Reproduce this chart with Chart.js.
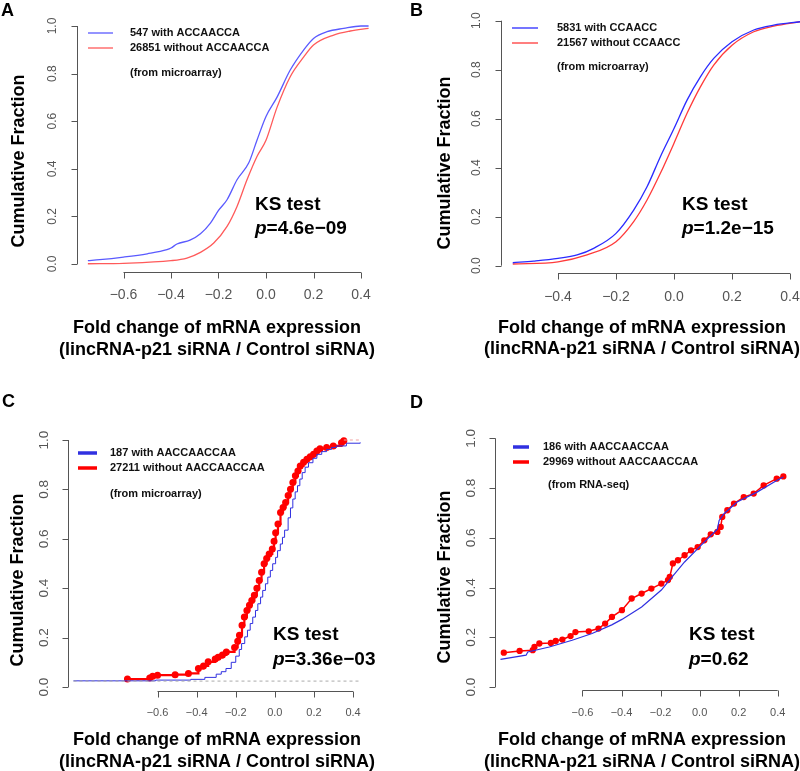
<!DOCTYPE html>
<html>
<head>
<meta charset="utf-8">
<script src="https://cdn.jsdelivr.net/npm/chart.js@4.4.1/dist/chart.umd.min.js"></script>
<style>
  html, body { margin: 0; padding: 0; background: #fff; }
  #wrap { position: relative; width: 800px; height: 771px; overflow: hidden; }
  canvas { position: absolute; }
</style>
</head>
<body>
<div id="wrap">
  <canvas id="chartA" width="400" height="385" style="left:0;top:0"></canvas>
  <canvas id="chartB" width="400" height="385" style="left:400px;top:0"></canvas>
  <canvas id="chartC" width="400" height="386" style="left:0;top:385px"></canvas>
  <canvas id="chartD" width="400" height="386" style="left:400px;top:385px"></canvas>
</div>
<script>
// ---- data ----
const yTicks = [0.0, 0.2, 0.4, 0.6, 0.8, 1.0];
const xTicksA = [-0.6, -0.4, -0.2, 0.0, 0.2, 0.4];
const xTicksB = [-0.4, -0.2, 0.0, 0.2, 0.4];
const xTicksCD = [-0.6, -0.4, -0.2, 0.0, 0.2, 0.4];

const aWith = [[-0.75,0.014],[-0.7,0.018],[-0.6,0.029],[-0.5,0.043],[-0.417,0.06],[-0.4,0.067],[-0.375,0.084],
  [-0.32,0.1],[-0.276,0.127],[-0.234,0.172],[-0.2,0.225],[-0.164,0.27],[-0.122,0.354],[-0.073,0.424],[-0.038,0.52],
  [0,0.62],[0.046,0.7],[0.102,0.815],[0.159,0.9],[0.2,0.948],[0.257,0.976],[0.327,0.99],[0.4,1.0],[0.432,1.0]];
const aWithout = [[-0.75,0.001],[-0.6,0.003],[-0.4,0.014],[-0.333,0.025],[-0.276,0.049],[-0.22,0.088],[-0.164,0.158],
  [-0.122,0.242],[-0.08,0.354],[-0.038,0.452],[0,0.52],[0.046,0.657],[0.102,0.787],[0.159,0.87],[0.2,0.92],
  [0.285,0.962],[0.355,0.979],[0.432,0.99]];

const bWith = [[-0.556,0.012],[-0.484,0.019],[-0.4,0.03],[-0.334,0.044],[-0.277,0.071],[-0.2,0.132],[-0.139,0.227],
  [-0.093,0.322],[-0.047,0.445],[0,0.56],[0.045,0.676],[0.091,0.771],[0.137,0.846],[0.2,0.914],[0.275,0.962],
  [0.344,0.982],[0.436,0.996]];
const bWithout = [[-0.556,0.007],[-0.4,0.016],[-0.3,0.044],[-0.2,0.098],[-0.139,0.18],[-0.093,0.268],[-0.047,0.377],
  [0,0.5],[0.045,0.622],[0.091,0.73],[0.137,0.819],[0.2,0.9],[0.275,0.955],[0.344,0.978],[0.436,0.996]];

const cWith = [[-1.03,0.025],[-0.61,0.028],[-0.43,0.031],[-0.358,0.039],[-0.3,0.052],[-0.274,0.062],[-0.25,0.075],
  [-0.223,0.1],[-0.2,0.125],[-0.182,0.152],[-0.17,0.176],[-0.154,0.203],[-0.14,0.23],[-0.126,0.257],[-0.113,0.283],
  [-0.099,0.31],[-0.087,0.337],[-0.073,0.364],[-0.062,0.391],[-0.048,0.418],[-0.036,0.445],[-0.023,0.472],
  [-0.011,0.499],[0.004,0.525],[0.014,0.552],[0.028,0.579],[0.039,0.606],[0.05,0.635],[0.068,0.685],
  [0.08,0.725],[0.092,0.761],[0.104,0.79],[0.116,0.815],[0.128,0.842],[0.14,0.868],[0.155,0.89],[0.172,0.908],
  [0.195,0.926],[0.215,0.942],[0.24,0.953],[0.265,0.962],[0.29,0.97],[0.316,0.976],[0.366,0.987],[0.437,0.99]];
const cWithout = [[-0.754,0.032],[-0.64,0.036],[-0.625,0.044],[-0.6,0.048],[-0.51,0.05],[-0.442,0.055],[-0.391,0.075],
  [-0.365,0.085],[-0.341,0.102],[-0.305,0.113],[-0.29,0.12],[-0.268,0.13],[-0.248,0.142],[-0.206,0.16],[-0.19,0.185],
  [-0.181,0.21],[-0.168,0.25],[-0.156,0.283],[-0.143,0.31],[-0.13,0.331],[-0.118,0.35],[-0.105,0.371],[-0.092,0.4],
  [-0.08,0.431],[-0.068,0.465],[-0.055,0.499],[-0.042,0.52],[-0.029,0.539],[-0.013,0.559],[-0.004,0.59],[0.004,0.625],
  [0.016,0.66],[0.029,0.707],[0.042,0.727],[0.055,0.747],[0.068,0.775],[0.08,0.801],[0.092,0.828],[0.105,0.855],
  [0.118,0.875],[0.13,0.895],[0.147,0.91],[0.164,0.922],[0.181,0.932],[0.198,0.942],[0.215,0.955],[0.231,0.965],
  [0.265,0.97],[0.299,0.976],[0.341,0.989],[0.353,0.997]];
const cBase = [[-1.03,0.024],[0.435,0.024]];
const cTop = [[0.353,1.0],[0.435,1.0]];

const dWith = [[-1.02,0.111],[-0.889,0.128],[-0.88,0.141],[-0.77,0.161],[-0.653,0.188],[-0.551,0.215],[-0.45,0.25],
  [-0.398,0.272],[-0.297,0.322],[-0.196,0.39],[-0.162,0.423],[-0.077,0.503],[0.007,0.57],[0.091,0.635],[0.1,0.67],
  [0.125,0.697],[0.192,0.744],[0.294,0.784],[0.395,0.831],[0.429,0.845]];
const dWithout = [[-1.003,0.138],[-0.922,0.145],[-0.855,0.148],[-0.846,0.161],[-0.821,0.175],[-0.762,0.177],
  [-0.737,0.185],[-0.703,0.191],[-0.661,0.205],[-0.636,0.221],[-0.568,0.224],[-0.518,0.235],[-0.484,0.255],
  [-0.449,0.282],[-0.398,0.309],[-0.348,0.356],[-0.297,0.376],[-0.247,0.396],[-0.196,0.416],[-0.162,0.43],
  [-0.153,0.443],[-0.137,0.497],[-0.111,0.51],[-0.077,0.53],[-0.044,0.55],[-0.01,0.563],[0.024,0.59],[0.057,0.614],
  [0.091,0.624],[0.108,0.644],[0.116,0.684],[0.142,0.711],[0.176,0.738],[0.226,0.764],[0.277,0.778],[0.328,0.811],
  [0.395,0.838],[0.429,0.847]];

const FONT = '"Liberation Sans", Arial, Helvetica, sans-serif';
const xTitle = ['Fold change of mRNA expression', '(lincRNA-p21 siRNA / Control siRNA)'];

const fmt = v => (v < 0 ? '\u2212' : '') + Math.abs(v).toFixed(1);

// R style axes + annotations, positioned through the chart's own scales
const rPlot = {
  id: 'rPlot',
  afterDraw(chart, args, o) {
    const { ctx, chartArea: ca, scales: { x, y } } = chart;
    ctx.save();
    ctx.strokeStyle = '#555';
    ctx.fillStyle = '#555';
    ctx.lineWidth = 1;
    const ax = Math.round(ca.left) + 0.5;
    const ay = Math.round(ca.bottom) + 0.5;
    ctx.beginPath();
    ctx.moveTo(ax, y.getPixelForValue(yTicks[0]));
    ctx.lineTo(ax, y.getPixelForValue(yTicks[yTicks.length - 1]));
    yTicks.forEach(v => {
      const py = Math.round(y.getPixelForValue(v)) + 0.5;
      ctx.moveTo(ax, py); ctx.lineTo(ax - 6, py);
    });
    ctx.moveTo(x.getPixelForValue(o.xTicks[0]), ay);
    ctx.lineTo(x.getPixelForValue(o.xTicks[o.xTicks.length - 1]), ay);
    o.xTicks.forEach(v => {
      const px = Math.round(x.getPixelForValue(v)) + 0.5;
      ctx.moveTo(px, ay); ctx.lineTo(px, ay + 6);
    });
    ctx.stroke();

    ctx.textAlign = 'center';
    ctx.textBaseline = 'middle';
    ctx.font = o.yTickFont + 'px ' + FONT;
    yTicks.forEach(v => {
      ctx.save();
      ctx.translate(ca.left - 24, y.getPixelForValue(v));
      ctx.rotate(-Math.PI / 2);
      ctx.fillText(v.toFixed(1), 0, 0);
      ctx.restore();
    });
    ctx.font = o.xTickFont + 'px ' + FONT;
    o.xTicks.forEach(v => ctx.fillText(fmt(v), x.getPixelForValue(v), ay + o.xLabGap));

    // titles
    const L = o.left, T = o.top;
    ctx.fillStyle = '#000';
    ctx.font = 'bold 18px ' + FONT;
    ctx.save();
    ctx.translate(o.yTitle[0] - L, o.yTitle[1] - T);
    ctx.rotate(-Math.PI / 2);
    ctx.fillText('Cumulative Fraction', 0, 0);
    ctx.restore();
    ctx.fillText(xTitle[0], o.xTitle[0] - L, o.xTitle[1] - T);
    ctx.fillText(xTitle[1], o.xTitle[0] - L, o.xTitle[2] - T);

    // panel letter
    ctx.textAlign = 'left';
    ctx.textBaseline = 'alphabetic';
    ctx.font = 'bold 18px ' + FONT;
    ctx.fillText(o.letter, o.letterPos[0] - L, o.letterPos[1] - T);

    // legend
    ctx.textBaseline = 'middle';
    o.legend.forEach((it, i) => {
      const ly = o.legY[i] - T;
      ctx.strokeStyle = it.color;
      ctx.lineWidth = o.legWidth;
      ctx.beginPath();
      ctx.moveTo(o.legLine[0] - L, ly); ctx.lineTo(o.legLine[1] - L, ly);
      ctx.stroke();
      ctx.fillStyle = '#111';
      ctx.font = 'bold 11px ' + FONT;
      ctx.fillText(it.text, o.legText - L, ly);
    });
    ctx.fillText(o.note, o.notePos[0] - L, o.notePos[1] - T);

    // KS test
    ctx.fillStyle = '#000';
    ctx.font = 'bold 19px ' + FONT;
    ctx.fillText('KS test', o.ks[0] - L, o.ks[1] - T);
    ctx.font = 'italic bold 19px ' + FONT;
    ctx.fillText('p', o.ks[0] - L, o.ks[2] - T);
    const pw = ctx.measureText('p').width;
    ctx.font = 'bold 19px ' + FONT;
    ctx.fillText('=' + o.pval, o.ks[0] - L + pw, o.ks[2] - T);
    ctx.restore();
  }
};

function series(data, color, width, extra) {
  return Object.assign({
    data: data.map(([x, y]) => ({ x, y })),
    borderColor: color, backgroundColor: color, borderWidth: width,
    pointRadius: 0, showLine: true, fill: false, clip: false
  }, extra || {});
}

function makePanel(id, p, datasets) {
  const xMin = (p.axisX - p.zeroX) / p.pxPerX;
  const xMax = (p.left + p.width - 2 - p.zeroX) / p.pxPerX;
  const yMin = (p.zeroY - p.axisY) / p.pxPerY;
  const yMax = (p.zeroY - (p.top + 5)) / p.pxPerY;
  new Chart(document.getElementById(id), {
    type: 'scatter',
    data: { datasets },
    options: {
      responsive: false,
      animation: false,
      devicePixelRatio: 1,
      layout: { padding: { left: p.axisX - p.left, right: 2, top: 5, bottom: p.top + p.height - p.axisY } },
      scales: {
        x: { type: 'linear', display: false, min: xMin, max: xMax },
        y: { type: 'linear', display: false, min: yMin, max: yMax }
      },
      plugins: { legend: { display: false }, tooltip: { enabled: false }, rPlot: p }
    },
    plugins: [rPlot]
  });
}

const smooth = { cubicInterpolationMode: 'monotone' };

makePanel('chartA', {
  left: 0, top: 0, width: 400, height: 385,
  axisX: 77, axisY: 272, zeroX: 266, pxPerX: 237.5, zeroY: 264, pxPerY: 238,
  xTicks: xTicksA, yTickFont: 12, xTickFont: 14, xLabGap: 23,
  yTitle: [19, 161], xTitle: [217, 328, 350], letter: 'A', letterPos: [1, 16],
  legend: [{ text: '547 with ACCAACCA', color: '#5a5aff' }, { text: '26851 without ACCAACCA', color: '#ff5a5a' }],
  legLine: [88, 113], legY: [33, 48], legText: 130, legWidth: 1.3,
  note: '(from microarray)', notePos: [130, 73],
  ks: [255, 205, 229], pval: '4.6e\u221209'
}, [
  series(aWith, '#5a5aff', 1.3, smooth),
  series(aWithout, '#ff5a5a', 1.3, smooth)
]);

makePanel('chartB', {
  left: 400, top: 0, width: 400, height: 385,
  axisX: 501, axisY: 273, zeroX: 674, pxPerX: 290, zeroY: 265.7, pxPerY: 245,
  xTicks: xTicksB, yTickFont: 12, xTickFont: 14, xLabGap: 24,
  yTitle: [445, 163], xTitle: [642, 328, 349], letter: 'B', letterPos: [410, 16],
  legend: [{ text: '5831 with CCAACC', color: '#2a2aff' }, { text: '21567 without CCAACC', color: '#ff3a3a' }],
  legLine: [512, 538], legY: [28, 43], legText: 557, legWidth: 1.3,
  note: '(from microarray)', notePos: [557, 67],
  ks: [682, 205, 229], pval: '1.2e\u221215'
}, [
  series(bWith, '#2a2aff', 1.3, smooth),
  series(bWithout, '#ff3a3a', 1.3, smooth)
]);

makePanel('chartC', {
  left: 0, top: 385, width: 400, height: 386,
  axisX: 68, axisY: 691, zeroX: 277.5, pxPerX: 198, zeroY: 687, pxPerY: 248,
  xTicks: xTicksCD, yTickFont: 13.5, xTickFont: 11, xLabGap: 21,
  yTitle: [18, 580], xTitle: [217, 740, 762], letter: 'C', letterPos: [2, 407],
  legend: [{ text: '187 with AACCAACCAA', color: '#3030e0' }, { text: '27211 without AACCAACCAA', color: '#ff0000' }],
  legLine: [78, 97], legY: [453, 468], legText: 110, legWidth: 3.5,
  note: '(from microarray)', notePos: [110, 494],
  ks: [273, 635, 660], pval: '3.36e\u221203'
}, [
  series(cBase, '#aaaaaa', 1, { borderDash: [3, 3] }),
  series(cTop, '#f0a0a0', 1, { borderDash: [3, 3] }),
  series(cWith, '#3030e0', 1, { stepped: true }),
  series(cWithout, '#ff0000', 2.2, { stepped: true, pointRadius: 2.4 })
]);

makePanel('chartD', {
  left: 400, top: 385, width: 400, height: 386,
  axisX: 495, axisY: 690, zeroX: 702, pxPerX: 197.5, zeroY: 687, pxPerY: 249,
  xTicks: xTicksCD, yTickFont: 13.5, xTickFont: 11, xLabGap: 22,
  yTitle: [445, 577], xTitle: [642, 740, 762], letter: 'D', letterPos: [410, 408],
  legend: [{ text: '186 with AACCAACCAA', color: '#3030e0' }, { text: '29969 without AACCAACCAA', color: '#ff0000' }],
  legLine: [513, 529], legY: [447, 462], legText: 543, legWidth: 3.5,
  note: '(from RNA-seq)', notePos: [548, 485],
  ks: [689, 635, 660], pval: '0.62'
}, [
  series(dWith, '#3030e0', 1.2),
  series(dWithout, '#ff0000', 1.5, { pointRadius: 2.4 })
]);
</script>
</body>
</html>
